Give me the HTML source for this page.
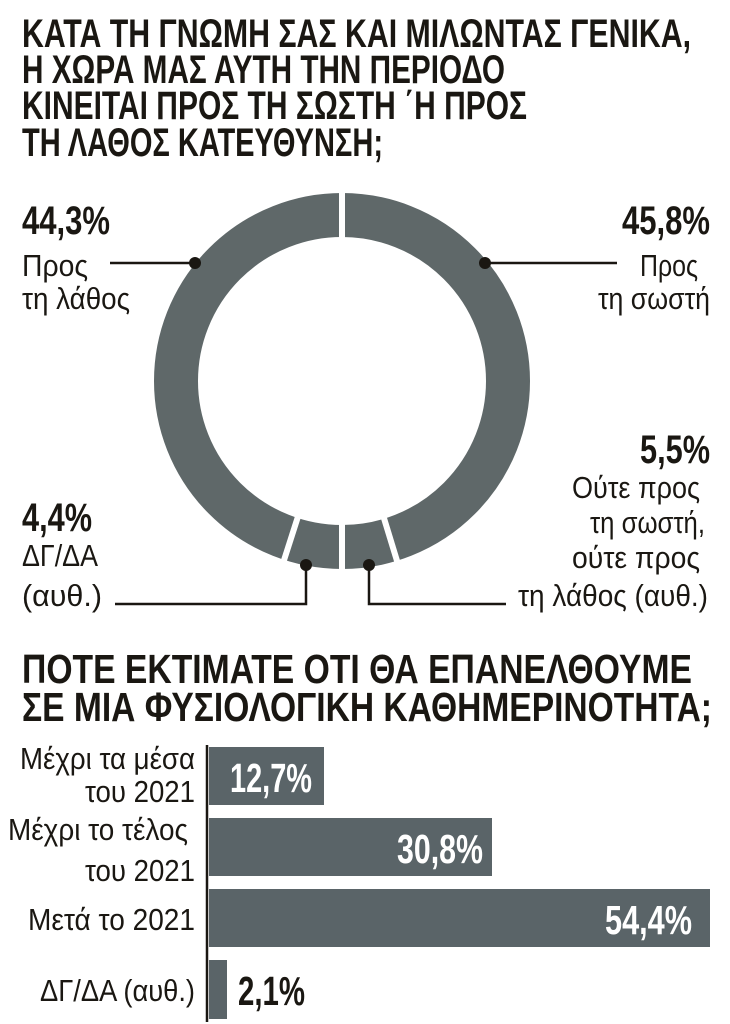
<!DOCTYPE html>
<html><head><meta charset="utf-8"><style>
html,body{margin:0;padding:0;background:#fff;}
svg{display:block;}
.t{font-family:"Liberation Sans",sans-serif;font-weight:bold;fill:#1a1712;}
.n{font-family:"Liberation Sans",sans-serif;fill:#1a1712;}
.w{font-family:"Liberation Sans",sans-serif;font-weight:bold;fill:#fff;}
</style></head><body>
<svg width="730" height="1024" viewBox="0 0 730 1024" xmlns="http://www.w3.org/2000/svg">
<g class="t" font-size="40">
<text x="22" y="47" textLength="669" lengthAdjust="spacingAndGlyphs">ΚΑΤΑ ΤΗ ΓΝΩΜΗ ΣΑΣ ΚΑΙ ΜΙΛΩΝΤΑΣ ΓΕΝΙΚΑ,</text>
<text x="22" y="83" textLength="483" lengthAdjust="spacingAndGlyphs">Η ΧΩΡΑ ΜΑΣ ΑΥΤΗ ΤΗΝ ΠΕΡΙΟΔΟ</text>
<text x="22" y="119" textLength="505" lengthAdjust="spacingAndGlyphs">ΚΙΝΕΙΤΑΙ ΠΡΟΣ ΤΗ ΣΩΣΤΗ ΄Η ΠΡΟΣ</text>
<text x="22" y="156" textLength="361" lengthAdjust="spacingAndGlyphs">ΤΗ ΛΑΘΟΣ ΚΑΤΕΥΘΥΝΣΗ;</text>
</g>
<circle cx="342" cy="381" r="166" fill="none" stroke="#5f6869" stroke-width="44"/>
<g stroke="#fff" stroke-width="6">
<line x1="342" y1="245" x2="342" y2="185"/>
<line x1="382.4" y1="513" x2="399.5" y2="569"/>
<line x1="342" y1="517" x2="342" y2="577"/>
<line x1="299.4" y1="512.2" x2="281.5" y2="568"/>
</g>
<g stroke="#1a1712" stroke-width="2.5" fill="none">
<line x1="110" y1="263" x2="195" y2="263"/>
<line x1="485" y1="263" x2="617" y2="263"/>
<polyline points="306,565 306,604 115,604"/>
<polyline points="369,565 369,604 506,604"/>
</g>
<g fill="#1a1712">
<circle cx="195" cy="263" r="6"/><circle cx="485" cy="263" r="6"/>
<circle cx="306" cy="565" r="6"/><circle cx="369" cy="565" r="6"/>
</g>
<g class="t" font-size="40">
<text x="22" y="234" textLength="88" lengthAdjust="spacingAndGlyphs">44,3%</text>
<text x="622" y="234" textLength="88" lengthAdjust="spacingAndGlyphs">45,8%</text>
<text x="640" y="463" textLength="70" lengthAdjust="spacingAndGlyphs">5,5%</text>
<text x="22" y="531" textLength="70" lengthAdjust="spacingAndGlyphs">4,4%</text>
</g>
<g class="n" font-size="31">
<text x="22" y="276" textLength="66" lengthAdjust="spacingAndGlyphs">Προς</text>
<text x="22" y="309" textLength="108" lengthAdjust="spacingAndGlyphs">τη λάθος</text>
<text x="640" y="276" textLength="58" lengthAdjust="spacingAndGlyphs">Προς</text>
<text x="598" y="309" textLength="112" lengthAdjust="spacingAndGlyphs">τη σωστή</text>
<text x="572" y="498" textLength="128" lengthAdjust="spacingAndGlyphs">Ούτε προς</text>
<text x="590" y="533" textLength="115" lengthAdjust="spacingAndGlyphs">τη σωστή,</text>
<text x="572" y="568" textLength="128" lengthAdjust="spacingAndGlyphs">ούτε προς</text>
<text x="518" y="606" textLength="190" lengthAdjust="spacingAndGlyphs">τη λάθος (αυθ.)</text>
<text x="22" y="566" textLength="76" lengthAdjust="spacingAndGlyphs">ΔΓ/ΔΑ</text>
<text x="22" y="606" textLength="80" lengthAdjust="spacingAndGlyphs">(αυθ.)</text>
</g>
<g class="t" font-size="41">
<text x="22" y="683" textLength="670" lengthAdjust="spacingAndGlyphs">ΠΟΤΕ ΕΚΤΙΜΑΤΕ ΟΤΙ ΘΑ ΕΠΑΝΕΛΘΟΥΜΕ</text>
<text x="22" y="721" textLength="690" lengthAdjust="spacingAndGlyphs">ΣΕ ΜΙΑ ΦΥΣΙΟΛΟΓΙΚΗ ΚΑΘΗΜΕΡΙΝΟΤΗΤΑ;</text>
</g>
<g fill="#5a6468">
<rect x="209" y="747" width="115" height="58"/>
<rect x="209" y="818" width="283" height="58"/>
<rect x="209" y="889" width="501" height="58"/>
<rect x="209" y="960" width="18" height="59"/>
</g>
<line x1="207" y1="745" x2="207" y2="1022" stroke="#1a1712" stroke-width="2.5"/>
<g class="n" font-size="31">
<text x="20" y="769" textLength="175" lengthAdjust="spacingAndGlyphs">Μέχρι τα μέσα</text>
<text x="85" y="802" textLength="110" lengthAdjust="spacingAndGlyphs">του 2021</text>
<text x="8" y="840" textLength="180" lengthAdjust="spacingAndGlyphs">Μέχρι το τέλος</text>
<text x="85" y="881" textLength="110" lengthAdjust="spacingAndGlyphs">του 2021</text>
<text x="28" y="930" textLength="167" lengthAdjust="spacingAndGlyphs">Μετά το 2021</text>
<text x="40" y="1001" textLength="155" lengthAdjust="spacingAndGlyphs">ΔΓ/ΔΑ (αυθ.)</text>
</g>
<g class="w" font-size="41">
<text x="230" y="792" textLength="82" lengthAdjust="spacingAndGlyphs">12,7%</text>
<text x="397" y="863" textLength="86" lengthAdjust="spacingAndGlyphs">30,8%</text>
<text x="605" y="934" textLength="87" lengthAdjust="spacingAndGlyphs">54,4%</text>
</g>
<text class="t" font-size="41" x="238" y="1005" textLength="67" lengthAdjust="spacingAndGlyphs">2,1%</text>
</svg>
</body></html>
